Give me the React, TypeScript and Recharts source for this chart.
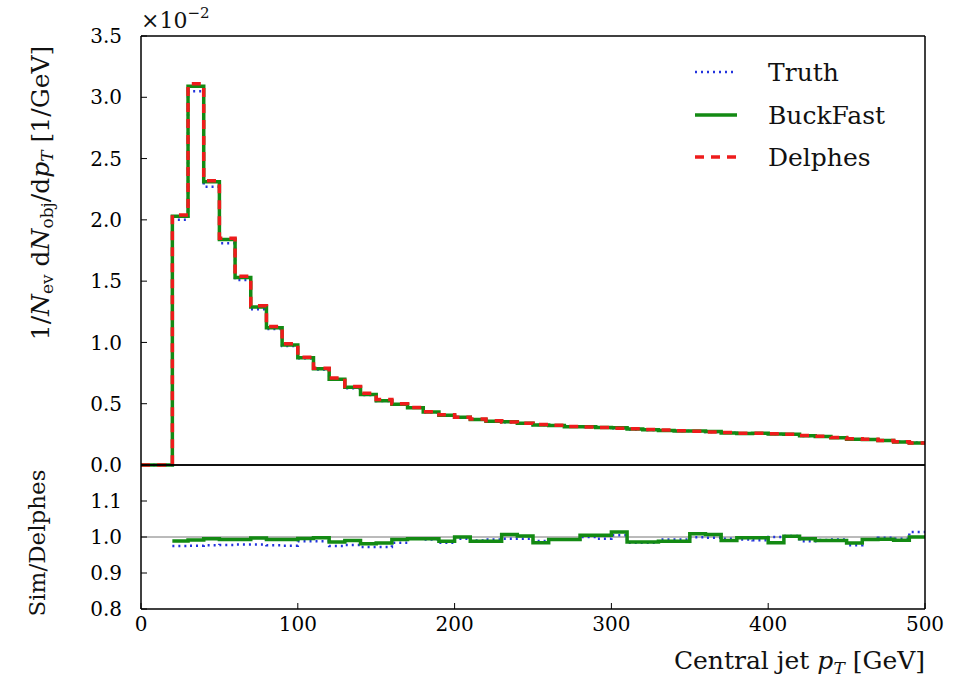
import React from "react";
import {
  LineChart,
  Line,
  XAxis,
  YAxis,
  ReferenceLine,
  Legend,
} from "recharts";

// bin edges: 10 GeV bins from 0 to 500
const binLow = [
  0, 10, 20, 30, 40, 50, 60, 70, 80, 90,
  100, 110, 120, 130, 140, 150, 160, 170, 180, 190,
  200, 210, 220, 230, 240, 250, 260, 270, 280, 290,
  300, 310, 320, 330, 340, 350, 360, 370, 380, 390,
  400, 410, 420, 430, 440, 450, 460, 470, 480, 490,
];

// 1/Nev dNobj/dpT in units of 1e-2
const delphes = [
  0, 0, 2.04, 3.11, 2.32, 1.85, 1.54, 1.30, 1.13, 0.99,
  0.88, 0.79, 0.71, 0.64, 0.585, 0.535, 0.50, 0.47, 0.435, 0.41,
  0.39, 0.375, 0.36, 0.35, 0.34, 0.33, 0.325, 0.315, 0.31, 0.305,
  0.30, 0.295, 0.29, 0.285, 0.28, 0.275, 0.27, 0.265, 0.26, 0.26,
  0.255, 0.25, 0.24, 0.235, 0.225, 0.215, 0.21, 0.20, 0.19, 0.18,
];
const buckfast = [
  0, 0, 2.03, 3.09, 2.31, 1.84, 1.53, 1.29, 1.12, 0.98,
  0.875, 0.785, 0.70, 0.635, 0.575, 0.525, 0.495, 0.468, 0.432, 0.405,
  0.39, 0.372, 0.357, 0.352, 0.341, 0.326, 0.323, 0.313, 0.312, 0.306,
  0.304, 0.293, 0.288, 0.282, 0.277, 0.278, 0.273, 0.262, 0.258, 0.259,
  0.252, 0.25, 0.239, 0.233, 0.223, 0.211, 0.208, 0.199, 0.188, 0.179,
];
const truth = [
  0, 0, 2.00, 3.05, 2.27, 1.81, 1.51, 1.27, 1.11, 0.97,
  0.87, 0.78, 0.695, 0.627, 0.571, 0.522, 0.494, 0.467, 0.43, 0.402,
  0.388, 0.37, 0.356, 0.348, 0.338, 0.326, 0.322, 0.313, 0.311, 0.303,
  0.30, 0.29, 0.286, 0.283, 0.278, 0.273, 0.27, 0.264, 0.258, 0.258,
  0.253, 0.25, 0.237, 0.234, 0.224, 0.21, 0.208, 0.20, 0.189, 0.183,
];

// ratios to Delphes (no entries below 20 GeV)
const ratioBuck = [
  null, null, 0.989, 0.992, 0.995, 0.993, 0.993, 0.997, 0.993, 0.993,
  0.996, 0.998, 0.986, 0.99, 0.981, 0.983, 0.993, 0.995, 0.995, 0.988,
  1.0, 0.988, 0.988, 1.007, 1.003, 0.984, 0.993, 0.993, 1.005, 1.005,
  1.014, 0.986, 0.986, 0.988, 0.988, 1.009, 1.007, 0.99, 0.998, 0.998,
  0.984, 1.002, 0.995, 0.99, 0.99, 0.983, 0.993, 0.994, 0.991, 1.0,
];
const ratioTruth = [
  null, null, 0.975, 0.976, 0.977, 0.978, 0.979, 0.979, 0.977, 0.976,
  0.988, 0.988, 0.975, 0.978, 0.972, 0.972, 0.984, 0.995, 0.993, 0.984,
  0.995, 0.99, 0.993, 0.995, 0.995, 0.989, 0.993, 0.993, 1.0, 0.995,
  1.005, 0.984, 0.984, 0.993, 0.993, 0.999, 0.998, 0.995, 0.993, 0.991,
  1.0, 1.003, 0.988, 0.992, 0.993, 0.977, 0.993, 0.998, 0.995, 1.014,
];

const xTicks = [0, 100, 200, 300, 400, 500];
const yTicksTop = [0, 0.5, 1, 1.5, 2, 2.5, 3, 3.5];
const yTicksRatio = [0.8, 0.9, 1.0, 1.1];

// step-after points: one per bin edge, last edge repeats last bin
const edge = (arr: (number | null)[], i: number) =>
  i < arr.length ? arr[i] : arr[arr.length - 1];
const edges = [...binLow, 500];
const topData = edges.map((pt, i) => ({
  pt,
  truth: edge(truth, i),
  buck: edge(buckfast, i),
  delphes: edge(delphes, i),
}));
const ratioData = edges.map((pt, i) => ({
  pt,
  truth: edge(ratioTruth, i),
  buck: edge(ratioBuck, i),
}));

const FONT = "DejaVu Serif";
const tickStyle = { fill: "#000", fontSize: 20, fontFamily: FONT };
const axisLine = { stroke: "#000", strokeWidth: 1.5 };
const tickLine = { stroke: "#000", strokeWidth: 1 };

const LegendBox = () => (
  <svg width={240} height={130}>
    <line x1={5} y1={17} x2={47} y2={17} stroke="#2233dd" strokeWidth={2.5} strokeDasharray="2 4" />
    <line x1={5} y1={60} x2={47} y2={60} stroke="#138a13" strokeWidth={3.5} />
    <line x1={5} y1={102} x2={47} y2={102} stroke="#ee1c1c" strokeWidth={3.5} strokeDasharray="9 7" />
    <text x={78} y={26} fontSize={25} fontFamily={FONT} fill="#111">Truth</text>
    <text x={78} y={69} fontSize={25} fontFamily={FONT} fill="#111">BuckFast</text>
    <text x={78} y={111} fontSize={25} fontFamily={FONT} fill="#111">Delphes</text>
  </svg>
);

export default function App() {
  return (
    <div style={{ position: "absolute", left: 0, top: 0, width: 967, height: 686, background: "#fff" }}>
      <div style={{ position: "absolute", left: 0, top: 0 }}>
        <LineChart width={967} height={486} data={topData} margin={{ top: 35, right: 41, bottom: 20, left: 0 }}>
          <XAxis xAxisId="b" dataKey="pt" type="number" domain={[0, 500]} ticks={xTicks} interval={0}
            orientation="bottom" height={1} tick={false} tickSize={-6} axisLine={axisLine} tickLine={tickLine} />
          <XAxis xAxisId="t" dataKey="pt" type="number" domain={[0, 500]} ticks={xTicks} interval={0}
            orientation="top" height={1} tick={false} tickSize={-6} axisLine={axisLine} tickLine={tickLine} />
          <YAxis yAxisId="l" type="number" domain={[0, 3.5]} ticks={yTicksTop} width={141} interval={0}
            tick={tickStyle} tickSize={-6} tickMargin={25} axisLine={axisLine} tickLine={tickLine}
            tickFormatter={(v: number) => v.toFixed(1)} />
          <YAxis yAxisId="r" orientation="right" type="number" domain={[0, 3.5]} ticks={yTicksTop} width={1}
            interval={0} tick={false} tickSize={-6} axisLine={axisLine} tickLine={tickLine} />
          <Legend layout="vertical" align="center" verticalAlign="middle" content={() => <LegendBox />}
            wrapperStyle={{ position: "absolute", left: 690, top: 55, width: 240 }} />
          <Line xAxisId="b" yAxisId="l" dataKey="truth" type="stepAfter" dot={false} stroke="#2233dd"
            strokeWidth={2.5} strokeDasharray="2 4" isAnimationActive={false} />
          <Line xAxisId="b" yAxisId="l" dataKey="buck" type="stepAfter" dot={false} stroke="#138a13"
            strokeWidth={3.5} isAnimationActive={false} />
          <Line xAxisId="b" yAxisId="l" dataKey="delphes" type="stepAfter" dot={false} stroke="#ee1c1c"
            strokeWidth={3.5} strokeDasharray="9 7" isAnimationActive={false} />
        </LineChart>
      </div>
      <div style={{ position: "absolute", left: 0, top: 464 }}>
        <LineChart width={967} height={222} data={ratioData} margin={{ top: 0, right: 41, bottom: 0, left: 0 }}>
          <XAxis xAxisId="b" dataKey="pt" type="number" domain={[0, 500]} ticks={xTicks} interval={0}
            orientation="bottom" height={77} tick={tickStyle} tickSize={-6} tickMargin={14}
            axisLine={axisLine} tickLine={tickLine} />
          <XAxis xAxisId="t" dataKey="pt" type="number" domain={[0, 500]} ticks={xTicks} interval={0}
            orientation="top" height={1} tick={false} tickSize={-6} axisLine={axisLine} tickLine={tickLine} />
          <YAxis yAxisId="l" type="number" domain={[0.8, 1.2]} ticks={yTicksRatio} width={141} interval={0}
            tick={tickStyle} tickSize={-6} tickMargin={25} axisLine={axisLine} tickLine={tickLine}
            tickFormatter={(v: number) => v.toFixed(1)} />
          <YAxis yAxisId="r" orientation="right" type="number" domain={[0.8, 1.2]} ticks={yTicksRatio} width={1}
            interval={0} tick={false} tickSize={-6} axisLine={axisLine} tickLine={tickLine} />
          <ReferenceLine xAxisId="b" yAxisId="l" y={1} stroke="#777" strokeWidth={1} />
          <Line xAxisId="b" yAxisId="l" dataKey="truth" type="stepAfter" dot={false} stroke="#2233dd"
            strokeWidth={2.5} strokeDasharray="2 4" isAnimationActive={false} />
          <Line xAxisId="b" yAxisId="l" dataKey="buck" type="stepAfter" dot={false} stroke="#138a13"
            strokeWidth={3.5} isAnimationActive={false} />
        </LineChart>
      </div>
      <svg width={967} height={686} style={{ position: "absolute", left: 0, top: 0, pointerEvents: "none" }}>
        <text x={141} y={28} fontSize={22} fontFamily={FONT} fill="#111">
          ×10<tspan fontSize={15} dy={-10}>−2</tspan>
        </text>
        <text transform="translate(49,193) rotate(-90)" textAnchor="middle" fontSize={25} fontFamily={FONT} fill="#111">
          1/<tspan fontStyle="italic">N</tspan>
          <tspan fontSize={17} dy={4}>ev</tspan>
          <tspan dy={-4}> d</tspan>
          <tspan fontStyle="italic">N</tspan>
          <tspan fontSize={17} dy={4}>obj</tspan>
          <tspan dy={-4}>/d</tspan>
          <tspan fontStyle="italic">p</tspan>
          <tspan fontSize={17} fontStyle="italic" dy={4}>T</tspan>
          <tspan dy={-4}> [1/GeV]</tspan>
        </text>
        <text transform="translate(45,543) rotate(-90)" textAnchor="middle" fontSize={23} fontFamily={FONT} fill="#111">
          Sim/Delphes
        </text>
        <text x={925} y={669} textAnchor="end" fontSize={25} fontFamily={FONT} fill="#111">
          Central jet <tspan fontStyle="italic">p</tspan>
          <tspan fontSize={17} fontStyle="italic" dy={5}>T</tspan>
          <tspan dy={-5}> [GeV]</tspan>
        </text>
      </svg>
    </div>
  );
}
